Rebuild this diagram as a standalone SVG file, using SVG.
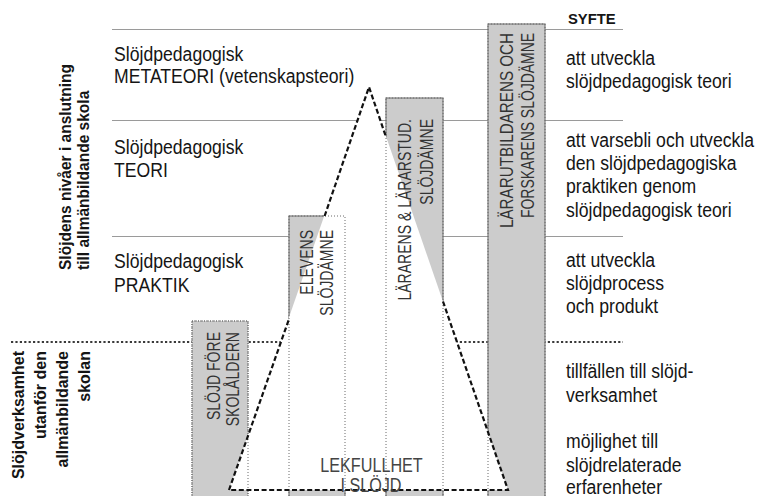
<svg xmlns="http://www.w3.org/2000/svg" width="757" height="496" viewBox="0 0 757 496">
  <style>
    .lvl { stroke: #9a9a9a; stroke-width: 1.2; fill: none; }
    .sep { stroke: #3a3a3a; stroke-width: 2.2; stroke-dasharray: 2.2 2.2; fill: none; }
    .box { fill: #cccccc; stroke: #7a7a7a; stroke-width: 1.2; }
    .boxdot { fill: none; stroke: #6a6a6a; stroke-width: 1; stroke-dasharray: 1 2; }
    .tri { fill: none; stroke: #111; stroke-width: 2.2; stroke-dasharray: 5 2.6; }
    .txt { font-family: "Liberation Sans", Arial, sans-serif; font-size: 21px; fill: #151515; }
    .head { font-family: "Liberation Sans", Arial, sans-serif; font-size: 16px; font-weight: bold; fill: #151515; }
    .lbl { font-family: "Liberation Sans", Arial, sans-serif; font-size: 18px; fill: #333; text-anchor: end; }
    .play { font-family: "Liberation Sans", Arial, sans-serif; font-size: 21px; fill: #444; text-anchor: middle; }
  </style>

  <!-- level boundaries -->
  <g id="levels">
    <line class="lvl" x1="112" y1="29.5" x2="623" y2="29.5"/>
    <line class="lvl" x1="112" y1="120.5" x2="623" y2="120.5"/>
    <line class="lvl" x1="112" y1="236.5" x2="623" y2="236.5"/>
    <line class="sep" x1="11" y1="342" x2="623" y2="342"/>
  </g>

  <!-- subject columns (filled) -->
  <g id="col-forskola"><rect class="box" x="192" y="321" width="56" height="180" style="stroke-dasharray:1 1"/></g>
  <g id="col-elev"><rect class="box" x="289" y="216" width="56" height="285"/></g>
  <g id="col-larare"><rect class="box" x="386" y="98" width="57" height="403"/></g>
  <g id="col-forskare"><rect class="box" x="488" y="24" width="57" height="477"/></g>

  <!-- playfulness triangle -->
  <g id="triangle">
    <polygon points="369,87 229,490 508,490" fill="#fff"/>
  </g>

  <!-- column edges seen through the triangle -->
  <g id="column-edges">
    <rect class="boxdot" x="192" y="321" width="56" height="180"/>
    <rect class="boxdot" x="289" y="216" width="56" height="285"/>
    <rect class="boxdot" x="386" y="98" width="57" height="403"/>
    <rect class="boxdot" x="488" y="24" width="57" height="477"/>
  </g>

  <!-- connectors: triangle outline -->
  <g id="connectors">
    <path class="tri" d="M229,490 L289,319 M324.6,216 L369,87 L386,137 M443,301.5 L508,490 L229,490"/>
  </g>

  <!-- level names (narrow type) -->
  <g id="level-meta" class="txt" transform="translate(114,0) scale(0.84,1)">
    <text x="0" y="61.5">Slöjdpedagogisk</text>
    <text x="0" y="83.5">METATEORI (vetenskapsteori)</text>
  </g>
  <g id="level-teori" class="txt" transform="translate(114,0) scale(0.84,1)">
    <text x="0" y="154">Slöjdpedagogisk</text>
    <text x="0" y="177.5">TEORI</text>
  </g>
  <g id="level-praktik" class="txt" transform="translate(114,0) scale(0.84,1)">
    <text x="0" y="268">Slöjdpedagogisk</text>
    <text x="0" y="292">PRAKTIK</text>
  </g>

  <!-- side headings -->
  <g id="head-school" class="head">
    <text transform="translate(71,270) rotate(-90) scale(0.97,1)">Slöjdens nivåer i anslutning</text>
    <text transform="translate(89,270) rotate(-90) scale(0.97,1)">till allmänbildande skola</text>
  </g>
  <g id="head-outside" class="head" text-anchor="end">
    <text transform="translate(24,351) rotate(-90)">Slöjdverksamhet</text>
    <text transform="translate(46,351) rotate(-90)">utanför den</text>
    <text transform="translate(68,351) rotate(-90)">allmänbildande</text>
    <text transform="translate(90,351) rotate(-90)">skolan</text>
  </g>

  <!-- column labels -->
  <g id="label-forskola" class="lbl">
    <text transform="translate(220,332) rotate(-90) scale(0.78,1)">SLÖJD FÖRE</text>
    <text transform="translate(239,332) rotate(-90) scale(0.78,1)">SKOLÅLDERN</text>
  </g>
  <g id="label-elev" class="lbl">
    <text transform="translate(313,230) rotate(-90) scale(0.78,1)">ELEVENS</text>
    <text transform="translate(333,230) rotate(-90) scale(0.78,1)">SLÖJDÄMNE</text>
  </g>
  <g id="label-larare" class="lbl">
    <text transform="translate(411,119) rotate(-90) scale(0.78,1)">LÄRARENS &amp; LÄRARSTUD.</text>
    <text transform="translate(433,119) rotate(-90) scale(0.78,1)">SLÖJDÄMNE</text>
  </g>
  <g id="label-forskare" class="lbl">
    <text transform="translate(513,33) rotate(-90)" textLength="195" lengthAdjust="spacingAndGlyphs">LÄRARUTBILDARENS OCH</text>
    <text transform="translate(534,33) rotate(-90)" textLength="185" lengthAdjust="spacingAndGlyphs">FORSKARENS  SLÖJDÄMNE</text>
  </g>

  <g id="label-lek" class="play">
    <text transform="translate(371.5,471.5) scale(0.77,1)">LEKFULLHET</text>
    <text transform="translate(371,491.5) scale(0.77,1)">I SLÖJD</text>
  </g>

  <!-- purposes -->
  <g id="syfte">
    <text x="568" y="24" style="font-family:'Liberation Sans',Arial,sans-serif;font-size:14.8px;font-weight:bold;fill:#151515">SYFTE</text>
  </g>
  <g id="syfte-meta" class="txt" transform="translate(566,0) scale(0.84,1)">
    <text x="0" y="65">att utveckla</text>
    <text x="0" y="88">slöjdpedagogisk teori</text>
  </g>
  <g id="syfte-teori" class="txt" transform="translate(566,0) scale(0.84,1)">
    <text x="0" y="146.7">att varsebli och utveckla</text>
    <text x="0" y="170">den slöjdpedagogiska</text>
    <text x="0" y="193.3">praktiken genom</text>
    <text x="0" y="216.7">slöjdpedagogisk teori</text>
  </g>
  <g id="syfte-praktik" class="txt" transform="translate(566,0) scale(0.84,1)">
    <text x="0" y="266.7">att utveckla</text>
    <text x="0" y="290">slöjdprocess</text>
    <text x="0" y="313.3">och produkt</text>
  </g>
  <g id="syfte-utanfor" class="txt" transform="translate(566,0) scale(0.84,1)">
    <text x="0" y="378">tillfällen till slöjd-</text>
    <text x="0" y="401.7">verksamhet</text>
    <text x="0" y="448">möjlighet till</text>
    <text x="0" y="471.7">slöjdrelaterade</text>
    <text x="0" y="494.5">erfarenheter</text>
  </g>
</svg>
